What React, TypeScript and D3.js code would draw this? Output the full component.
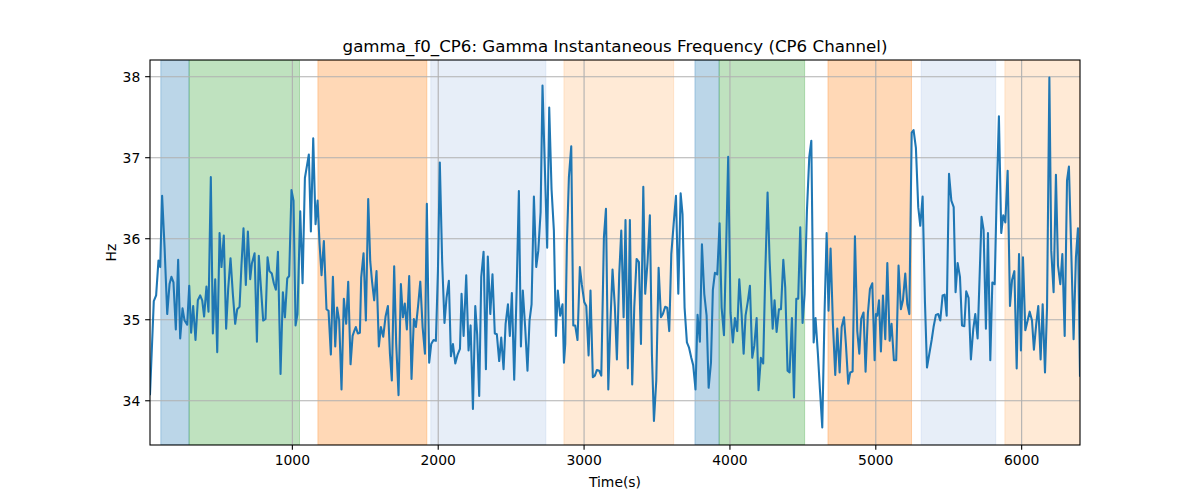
import React from "react";
import * as d3 from "d3";

const times: number[] = [
  24,50,66,82,94,107,124,142,158,171,185,201,217,231,247,261,279,293,306,320,336,352,368,382,395,411,425,441,455,471,485,501,514,530,546,560,576,592,608,622,638,651,665,681,695,711,
  722,741,757,770,786,800,816,830,843,859,873,887,901,919,935,949,965,978,994,1008,1022,1035,1054,1070,1086,1099,1113,1127,1143,1159,1173,1186,1200,1216,1234,1248,1264,1278,1294,1307,1321,1337,1353,1369,1383,1399,1413,1426,
  1435,1449,1463,1472,1488,1504,1520,1534,1547,1561,1577,1593,1607,1623,1639,1655,1669,1682,1698,1712,1728,1744,1758,1771,1785,1801,1817,1833,1847,1863,1877,1893,1909,1922,1938,1952,1968,1984,1998,2011,2027,2043,2057,2073,2087,2101,2117,2133,
  2149,2160,2174,2192,2208,2222,2238,2254,2267,2281,2295,2311,2327,2340,2357,2372,2388,2402,2418,2432,2448,2462,2478,2491,2505,2521,2537,2553,2567,2580,2596,2612,2626,2640,2656,2672,2686,2702,2715,2731,2747,2761,2777,2793,2807,2820,2836,2852,
  2862,2871,2882,2896,2912,2926,2939,2955,2971,2985,3001,3015,3031,3044,3060,3074,3088,3104,3118,3136,3150,3166,3182,3195,3211,3225,3241,3255,3271,3284,3300,3314,3330,3344,3360,3376,3390,3406,3419,3435,3451,3465,3479,3495,3511,3527,3540,3556,3570,
  3584,3598,3614,3630,3646,3662,3675,3689,3705,3719,3735,3748,3764,3778,3794,3808,3824,3840,3854,3870,3883,3897,3913,3929,3943,3959,3975,3988,4004,4020,4034,4050,4064,4080,4094,4107,4123,4137,4153,4167,4183,4196,4212,4228,4242,4258,4272,
  4293,4306,4320,4336,4350,4366,4379,4395,4409,4425,4439,4455,4468,4482,4498,4512,4528,4544,4558,4574,4587,4603,4617,4633,4649,4663,4676,4690,4706,4722,4736,4752,4766,4782,4795,4811,4825,4841,4857,4873,4887,4900,4916,4930,4946,4960,4976,4992,
  5001,5010,5022,5035,5049,5065,5079,5095,5108,5124,5140,5156,5172,5186,5202,5216,5230,5246,5259,5275,5291,5305,5321,5337,5351,5367,5383,5396,5412,5428,5442,5458,5472,5486,5502,5518,5534,5547,5561,5577,5591,5607,5620,5636,5652,5668,5682,5698,
  5725,5739,5755,5769,5785,5799,5815,5828,5844,5860,5874,5888,5904,5920,5934,5950,5966,5982,5995,6009,6025,6041,6055,6071,6084,6100,6114,6130,6144,6160,6174,6190,6203,6219,6235,6249,6265,6279,6295,6311,6324,6340,6356,6372,6386,6400,
];

const hz: number[] = [
  34.08,35.23,35.30,35.73,35.65,36.53,35.89,35.07,35.44,35.53,35.46,34.88,35.74,34.77,35.14,34.99,34.94,35.42,34.84,35.17,34.75,35.24,35.30,35.24,35.04,35.41,35.10,36.76,34.83,35.50,34.60,36.07,35.65,36.04,34.89,35.38,35.76,35.32,34.95,35.13,35.16,35.67,36.13,35.43,36.09,35.50,
  35.69,35.82,34.73,35.79,35.36,34.99,35.01,35.77,35.60,35.57,35.45,35.37,35.84,34.33,35.34,35.03,35.51,35.54,36.60,36.47,34.93,35.07,36.34,35.45,36.75,36.89,37.04,36.09,37.24,36.18,36.47,35.95,35.55,35.97,35.13,35.11,34.57,35.53,34.67,35.15,34.99,34.14,35.26,34.95,35.47,34.45,34.80,34.87,
  34.91,34.83,34.84,35.52,35.82,34.99,36.49,35.72,35.46,35.24,35.60,34.67,34.91,34.79,35.04,35.17,34.58,34.25,35.66,34.70,34.07,35.44,35.03,35.20,34.88,35.54,34.27,35.01,34.91,35.19,35.47,34.91,34.58,36.43,34.47,34.70,34.75,34.74,35.60,36.94,35.72,34.96,35.27,35.48,34.55,34.70,34.46,34.57,
  34.64,35.32,34.80,35.55,34.62,34.93,33.90,35.17,34.82,34.06,35.53,35.84,34.39,35.78,35.07,35.56,34.83,34.82,34.49,34.78,34.39,34.95,35.19,34.80,35.33,34.26,35.32,36.59,34.67,35.36,34.91,34.37,34.99,35.19,36.52,35.65,35.85,36.33,37.89,36.88,35.89,37.62,36.61,36.10,34.80,35.36,35.05,35.19,
  34.47,34.70,35.93,36.76,37.14,34.93,34.93,34.75,35.65,35.43,35.22,35.17,34.56,35.36,34.29,34.31,34.38,34.37,34.31,36.02,36.37,34.14,35.03,35.62,35.16,34.51,35.56,36.10,35.03,36.23,34.40,36.23,34.20,35.15,35.75,35.71,34.70,36.64,35.32,35.71,36.29,34.58,33.75,34.25,35.64,35.03,35.07,35.16,35.15,
  34.86,35.81,36.18,36.53,35.32,36.56,36.30,35.15,34.72,34.66,34.53,34.44,34.14,35.06,34.73,35.93,35.32,35.05,34.16,34.47,35.37,35.58,35.56,36.19,35.15,34.81,35.97,37.01,35.09,34.72,35.02,34.86,35.50,35.07,34.58,35.05,35.23,35.42,34.53,34.68,35.02,34.13,34.53,34.46,35.56,36.57,35.73,
  34.89,35.24,34.85,35.13,35.13,35.74,35.40,34.37,34.35,35.02,34.04,35.26,35.26,36.14,34.96,35.32,36.35,37.01,37.21,34.72,35.02,34.58,34.14,33.67,35.11,36.07,35.11,35.88,34.95,34.32,34.89,34.35,34.91,35.03,34.70,34.21,34.35,34.36,36.03,34.86,34.58,35.01,35.09,34.36,35.08,35.38,35.45,34.50,
  35.07,35.05,35.24,34.61,35.30,34.76,35.70,34.74,34.95,34.50,34.50,35.67,35.13,35.24,35.57,35.19,35.07,37.31,37.34,37.12,36.39,36.16,36.52,35.22,34.41,34.58,34.75,34.91,35.06,35.07,34.99,35.30,35.31,35.05,36.80,36.47,36.39,35.34,35.70,35.53,34.93,34.92,35.35,35.27,34.51,34.88,35.07,34.77,
  36.27,36.11,34.89,36.07,34.50,35.46,35.44,36.47,37.51,36.07,36.29,36.20,36.84,35.17,35.49,35.60,34.40,35.81,34.62,35.77,34.87,34.99,35.10,34.99,34.63,34.95,35.17,34.51,35.19,34.35,35.15,37.99,35.85,35.34,36.79,35.67,35.44,35.81,34.80,36.72,36.89,35.85,34.76,35.77,36.13,34.31,
];

const spanStarts: number[] = [98, 292, 1175, 1949, 2862, 3760, 3926, 4672, 5311, 5885];
const spanEnds: number[] = [292, 1049, 1922, 2738, 3614, 3926, 4512, 5245, 5822, 6400];
const spanColors: string[] = ["#1f77b4", "#2ca02c", "#ff7f0e", "#aec7e8", "#ffbb78", "#1f77b4", "#2ca02c", "#ff7f0e", "#aec7e8", "#ffbb78"];

const xTicks: number[] = [1000, 2000, 3000, 4000, 5000, 6000];
const yTicks: number[] = [34, 35, 36, 37, 38];

const titleText = "gamma_f0_CP6: Gamma Instantaneous Frequency (CP6 Channel)";
const xLabel = "Time(s)";
const yLabel = "Hz";

export default function App() {
  const W = 1200, H = 500;
  const left = 150, right = 1080, top = 60, bottom = 445;
  const font = "'DejaVu Sans', sans-serif";

  const xExt = d3.extent(times) as [number, number];
  const yExt = d3.extent(hz) as [number, number];
  const pad = (yExt[1] - yExt[0]) * 0.05;

  const x = d3.scaleLinear().domain(xExt).range([left, right]);
  const y = d3.scaleLinear().domain([yExt[0] - pad, yExt[1] + pad]).range([bottom, top]);

  const pts: [number, number][] = times.map((t, i) => [t, hz[i]]);
  const line = d3.line<[number, number]>().x((d) => x(d[0])).y((d) => y(d[1]));

  const tickLen = 4.86;
  const tickFont = 13.9;

  return (
    <svg width={W} height={H} style={{ display: "block", position: "absolute", left: 0, top: 0 }} fontFamily={font}>
      <rect x={0} y={0} width={W} height={H} fill="#fff" />
      <defs>
        <clipPath id="plotclip">
          <rect x={left} y={top} width={right - left} height={bottom - top} />
        </clipPath>
      </defs>
      <g clipPath="url(#plotclip)">
        {spanStarts.map((s, i) => (
          <rect
            key={"sp" + i}
            x={x(s)}
            y={top}
            width={x(spanEnds[i]) - x(s)}
            height={bottom - top}
            fill={spanColors[i]}
            fillOpacity={0.3}
            stroke={spanColors[i]}
            strokeOpacity={0.3}
            strokeWidth={1}
          />
        ))}
        {xTicks.map((t) => (
          <line key={"gx" + t} x1={x(t)} x2={x(t)} y1={top} y2={bottom} stroke="#b0b0b0" strokeWidth={1.1} />
        ))}
        {yTicks.map((t) => (
          <line key={"gy" + t} x1={left} x2={right} y1={y(t)} y2={y(t)} stroke="#b0b0b0" strokeWidth={1.1} />
        ))}
        <path d={line(pts) || ""} fill="none" stroke="#1f77b4" strokeWidth={2.08} strokeLinejoin="round" strokeLinecap="square" />
      </g>
      <rect x={left} y={top} width={right - left} height={bottom - top} fill="none" stroke="#000" strokeWidth={1.1} />
      {xTicks.map((t) => (
        <g key={"xt" + t}>
          <line x1={x(t)} x2={x(t)} y1={bottom} y2={bottom + tickLen} stroke="#000" strokeWidth={1.1} />
          <text x={x(t)} y={bottom + tickLen + 15.5} textAnchor="middle" fontSize={tickFont} fill="#000">
            {t}
          </text>
        </g>
      ))}
      {yTicks.map((t) => (
        <g key={"yt" + t}>
          <line x1={left - tickLen} x2={left} y1={y(t)} y2={y(t)} stroke="#000" strokeWidth={1.1} />
          <text x={left - tickLen - 4.9} y={y(t) + 5} textAnchor="end" fontSize={tickFont} fill="#000">
            {t}
          </text>
        </g>
      ))}
      <text x={(left + right) / 2} y={486.5} textAnchor="middle" fontSize={tickFont} fill="#000">
        {xLabel}
      </text>
      <text transform={`translate(116,${(top + bottom) / 2}) rotate(-90)`} textAnchor="middle" fontSize={tickFont} fill="#000">
        {yLabel}
      </text>
      <text x={(left + right) / 2} y={51.7} textAnchor="middle" fontSize={16.67} fill="#000">
        {titleText}
      </text>
    </svg>
  );
}
